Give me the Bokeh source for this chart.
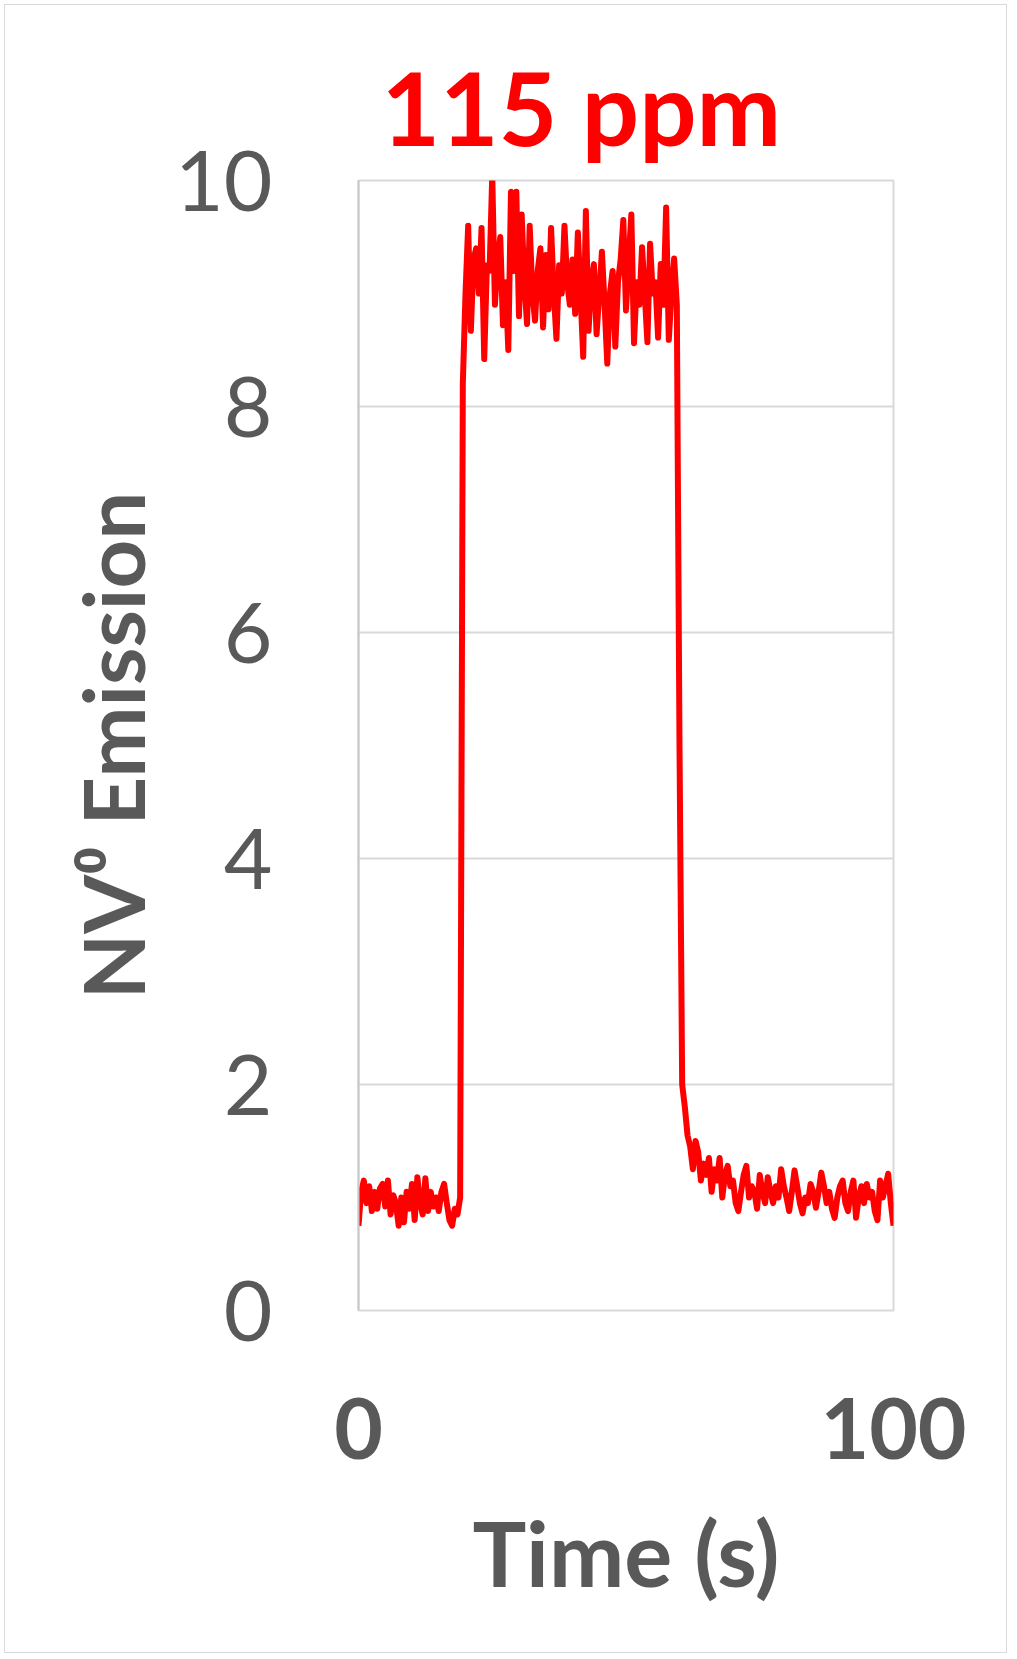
from bokeh.plotting import figure
from bokeh.models import Range1d, FixedTicker
from bokeh.embed import file_html
from bokeh.resources import INLINE

time_step_s = 0.5

baseline_before = [
    0.75, 1.05, 1.15, 0.95, 1.10, 0.88, 1.05, 0.90, 1.08, 1.12,
    0.92, 1.15, 0.85, 1.02, 0.95, 0.75, 1.00, 0.78, 1.05, 0.90,
    1.12, 0.80, 1.18, 0.95, 0.85, 1.17, 0.88, 1.05, 0.92, 1.00,
    0.88, 1.05, 1.12, 0.95, 0.80, 0.75, 0.90, 0.85, 1.00,
]

exposure = [
    8.2,
    9.0, 9.6, 8.67, 9.3, 9.4, 9.0, 9.58, 8.42, 9.25, 9.2,
    10.05, 8.9, 9.3, 9.5, 8.72, 9.1, 8.5, 9.9, 9.2, 9.9,
    8.8, 9.7, 9.1, 8.73, 9.6, 9.0, 8.76, 9.2, 9.4, 8.7,
    9.34, 8.86, 9.58, 9.0, 8.6, 9.25, 9.0, 9.6, 9.1, 8.9,
    9.3, 8.82, 9.54, 9.0, 8.44, 9.73, 8.67, 9.1, 9.26, 8.64,
    9.0, 9.37, 8.9, 8.38, 9.0, 9.2, 8.53, 9.1, 9.3, 9.65,
    8.85, 9.3, 9.7, 8.56, 9.1, 8.9, 9.41, 9.0, 8.57, 9.44,
    9.0, 9.1, 8.61, 9.26, 8.9, 9.76, 8.59, 9.0, 9.31, 8.9,
]

recovery = [
    5.0, 2.0, 1.8, 1.55, 1.45, 1.25, 1.5, 1.4, 1.15, 1.3,
    1.2, 1.35, 1.05, 1.25, 1.15, 1.35, 1.0, 1.2, 1.28, 1.1,
    1.15, 0.95, 0.88, 1.05, 1.2, 1.28, 1.0, 1.1, 1.05, 0.9,
    1.2, 1.05, 0.95, 1.18, 1.05, 0.95, 1.1, 1.0, 1.25, 1.1,
    1.0, 0.88, 1.05, 1.24, 1.1, 0.95, 0.86, 1.0, 0.95, 1.12,
    1.05, 0.91, 1.05, 1.22, 1.1, 0.95, 1.05, 0.9, 0.82, 1.0,
    1.1, 1.15, 0.95, 0.88, 1.05, 1.15, 0.82, 1.0, 1.1, 0.95,
    1.12, 1.0, 1.05, 0.88, 0.8, 1.15, 1.0, 1.1, 1.21, 0.95,
    0.75,
]

emission = baseline_before + exposure + recovery
time_s = [i * time_step_s for i in range(len(emission))]

x_ticks = [0, 100]
y_ticks = [0, 2, 4, 6, 8, 10]
title_text = "115 ppm"
x_label = "Time (s)"
y_label = "NV\u2070 Emission"

GRAY = "#595959"
FONT = "Lato"

p = figure(
    width=1011, height=1657,
    x_range=Range1d(0, 100), y_range=Range1d(0, 10),
    output_backend="svg", toolbar_location=None,
    min_border_left=358, min_border_top=180,
    min_border_right=118, min_border_bottom=347,
    background_fill_color="white", border_fill_color="white",
    border_fill_alpha=0.0,
)
p.styles = {"outline": "1.5px solid #d9d9d9", "outline-offset": "-5px",
            "background-color": "white"}

p.line(time_s, emission, line_color="#ff0000", line_width=6, line_join="round")

# title
p.title.text = title_text
p.title.text_font = FONT
p.title.text_font_style = "bold"
p.title.text_font_size = "101px"
p.title.text_color = "#ff0000"
p.title.align = "left"
p.title.offset = 23
p.title.standoff = 26

# frame / grid
p.outline_line_color = "#d9d9d9"
p.outline_line_width = 2
p.xgrid.visible = False
p.ygrid.grid_line_color = "#d9d9d9"
p.ygrid.grid_line_width = 2
p.ygrid.ticker = FixedTicker(ticks=y_ticks)

# axes
p.xaxis.ticker = FixedTicker(ticks=x_ticks)
p.yaxis.ticker = FixedTicker(ticks=y_ticks)
for ax in (p.xaxis[0], p.yaxis[0]):
    ax.major_tick_line_color = None
    ax.minor_tick_line_color = None
    ax.major_tick_out = 0
    ax.major_tick_in = 0
    ax.major_label_text_color = GRAY
    ax.major_label_text_font = FONT
    ax.axis_label_text_color = GRAY
    ax.axis_label_text_font = FONT
    ax.axis_label_text_font_style = "bold"

p.xaxis.axis_line_color = None
p.yaxis.axis_line_color = "#c8c8c8"
p.yaxis.axis_line_width = 2

p.yaxis.major_label_text_font_size = "84px"
p.yaxis.major_label_text_font_style = "normal"
p.yaxis.major_label_standoff = 86
p.yaxis.axis_label = y_label
p.yaxis.axis_label_text_font_size = "85px"
p.yaxis.axis_label_standoff = 9

p.xaxis.major_label_text_font_size = "84px"
p.xaxis.major_label_text_font_style = "bold"
p.xaxis.major_label_standoff = 87
p.xaxis.axis_label = x_label
p.xaxis.axis_label_text_font_size = "90px"
p.xaxis.axis_label_standoff = 36

open("out.html", "w").write(file_html(p, INLINE))
